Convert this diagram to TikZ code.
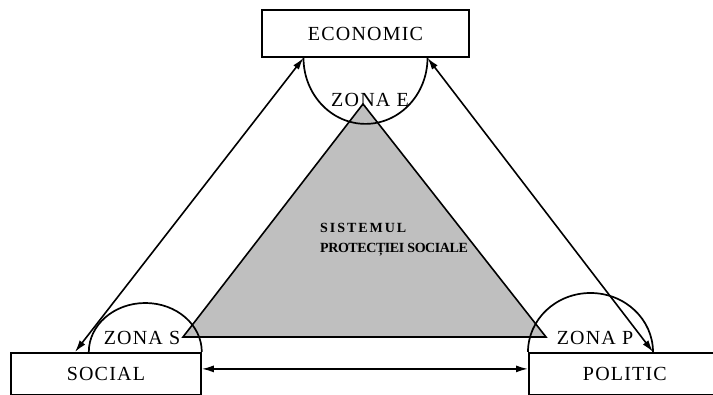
\documentclass[tikz,border=0pt]{standalone}
\usepackage{fontspec}
\setmainfont[LetterSpace=6]{Liberation Serif}
\usetikzlibrary{arrows.meta}
\tikzset{
	domainbox/.style={draw, line width=1.8pt, minimum height=47pt, inner sep=0pt, font=\fontsize{20}{24}\selectfont},
	zone/.style={inner sep=0pt, font=\fontsize{20}{24}\selectfont},
	zonearc/.style={line width=1.7pt},
	link/.style={line width=1.6pt, {Latex[length=12pt,width=7pt]}-{Latex[length=12pt,width=7pt]}}
}
\begin{document}
\begin{tikzpicture}[x=1pt,y=1pt]
	\useasboundingbox (0,0) rectangle (713,395);
	\clip (0,0) rectangle (713,395);
	
	% Central triangle
	\draw[line width=1.6pt, fill=black!25] (183,58) -- (363,291) -- (546,58) -- cycle;
	\node[align=left, anchor=west, inner sep=0pt, font=\bfseries\fontsize{14}{20}\selectfont] (sys) at (320,155)
		{{\addfontfeature{LetterSpace=14}SISTEMUL}\\{\addfontfeature{LetterSpace=-3}PROTECȚIEI SOCIALE}};
	
	% Domains
	\node[domainbox, minimum width=207pt] (eco) at (365.5,361.5) {ECONOMIC};
	\node[domainbox, minimum width=190pt, minimum height=42pt, anchor=north west] (soc) at (10,43) {SOCIAL};
	\node[domainbox, minimum width=192pt, minimum height=42pt, anchor=north west] (pol) at (528,43) {POLITIC};
	
	% Zones
	\draw[zonearc] (eco.south) ++(-62,0) coordinate (e1) arc[start angle=180, end angle=360, x radius=62pt, y radius=66pt] coordinate (e2);
	\draw[zonearc] (soc.north east) arc[start angle=0, end angle=180, x radius=56.5pt, y radius=49pt];
	\draw[zonearc] (pol.north west) arc[start angle=180, end angle=0, x radius=62.5pt, y radius=59pt] coordinate (p2);
	\coordinate (s0) at ([xshift=65pt]soc.north west);
	
	\node[zone] (ze) at (370,295) {ZONA E};
	\node[zone] (zs) at (142,57) {ZONA S};
	\node[zone] (zp) at (595,57) {ZONA P};
	
	% Links
	\draw[link] (s0) -- (e1);
	\draw[link] (e2) -- (p2);
	\draw[link] ([yshift=5pt]soc.east) -- ([yshift=5pt]pol.west);
	
\end{tikzpicture}
\end{document}
